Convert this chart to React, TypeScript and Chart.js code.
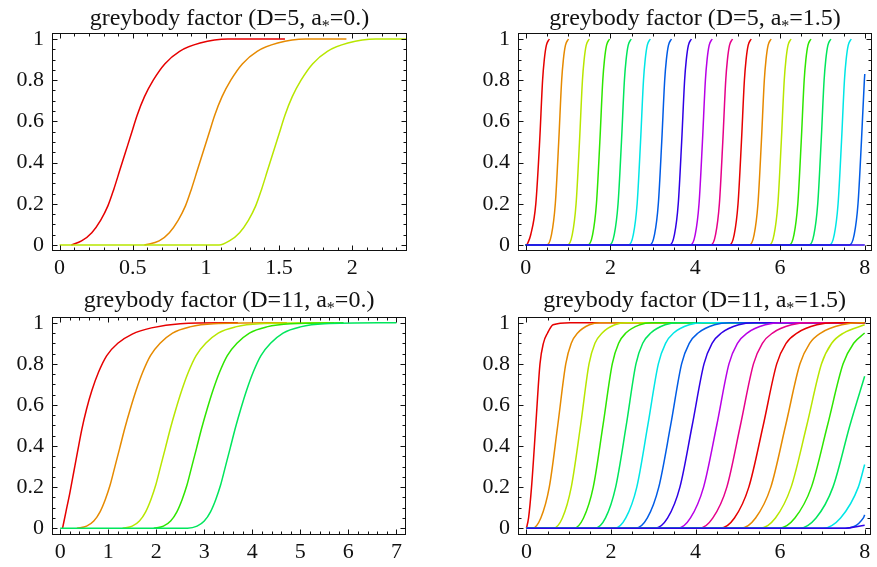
import React, { useEffect, useRef } from 'react';
import { Chart, registerables } from 'chart.js';

Chart.register(...registerables);

const SERIF = '"Liberation Serif", "Times New Roman", Times, serif';

// ---------- shared y axis ----------
const Y_TICKS = [0, 0.2, 0.4, 0.6, 0.8, 1];
const Y_TICK_LABELS = ['0', '0.2', '0.4', '0.6', '0.8', '1'];
const Y_MINOR = [0.05, 0.1, 0.15, 0.25, 0.3, 0.35, 0.45, 0.5, 0.55, 0.65, 0.7, 0.75, 0.85, 0.9, 0.95];

// hue (degrees) of curve i in every panel
const HUES = [0, 36, 72, 108, 144, 180, 216, 252, 288, 324, 0, 36, 72, 108, 144, 180, 216, 252];

// ---------- panel 1 : D=5, a*=0 ----------
const P1_TITLE = ['greybody factor (D=5, a', '*', '=0.)'];
const P1_X_TICKS = [0, 0.5, 1, 1.5, 2];
const P1_X_LABELS = ['0', '0.5', '1', '1.5', '2'];
const P1_X_MINOR = [0.1, 0.2, 0.3, 0.4, 0.6, 0.7, 0.8, 0.9, 1.1, 1.2, 1.3, 1.4, 1.6, 1.7, 1.8, 1.9, 2.1, 2.2, 2.3];
const P1_X = [
  [0.08, 0.15, 0.22, 0.28, 0.33, 0.37, 0.41, 0.45, 0.49, 0.53, 0.58, 0.64, 0.72, 0.82, 0.96, 1.15, 1.54],
  [0.58, 0.68, 0.75, 0.81, 0.86, 0.9, 0.94, 0.98, 1.02, 1.06, 1.11, 1.17, 1.25, 1.35, 1.49, 1.68, 1.96],
  [0, 1.09, 1.16, 1.23, 1.29, 1.34, 1.38, 1.42, 1.46, 1.5, 1.54, 1.59, 1.65, 1.73, 1.83, 1.97, 2.16, 2.37],
];
const P1_Y_LEVELS = [0, 0.02, 0.06, 0.12, 0.19, 0.27, 0.36, 0.45, 0.54, 0.63, 0.72, 0.8, 0.88, 0.94, 0.98, 1, 1];
const P1_Y_LEVELS_TAIL = [0, 0, 0.02, 0.06, 0.12, 0.19, 0.27, 0.36, 0.45, 0.54, 0.63, 0.72, 0.8, 0.88, 0.94, 0.98, 1, 1];
const P1_Y = [P1_Y_LEVELS, P1_Y_LEVELS, P1_Y_LEVELS_TAIL];

// ---------- panel 2 : D=5, a*=1.5 ----------
const P2_TITLE = ['greybody factor (D=5, a', '*', '=1.5)'];
const P2_X_TICKS = [0, 2, 4, 6, 8];
const P2_X_LABELS = ['0', '2', '4', '6', '8'];
const P2_X_MINOR = [0.5, 1, 1.5, 2.5, 3, 3.5, 4.5, 5, 5.5, 6.5, 7, 7.5];
const P2_X = [
  [0.03, 0.12, 0.24, 0.33, 0.4, 0.44, 0.49, 0.56],
  [0, 0.5, 0.61, 0.7, 0.78, 0.85, 0.89, 0.94, 1.01],
  [0, 0.99, 1.1, 1.19, 1.27, 1.34, 1.38, 1.43, 1.5],
  [0, 1.47, 1.58, 1.67, 1.75, 1.82, 1.86, 1.91, 1.98],
  [0, 1.98, 2.09, 2.18, 2.26, 2.33, 2.37, 2.42, 2.49],
  [0, 2.43, 2.54, 2.63, 2.71, 2.78, 2.82, 2.87, 2.94],
  [0, 2.93, 3.04, 3.13, 3.21, 3.28, 3.32, 3.37, 3.44],
  [0, 3.4, 3.51, 3.6, 3.68, 3.75, 3.79, 3.84, 3.91],
  [0, 3.89, 4.0, 4.09, 4.17, 4.24, 4.28, 4.33, 4.4],
  [0, 4.37, 4.48, 4.57, 4.65, 4.72, 4.76, 4.81, 4.88],
  [0, 4.81, 4.92, 5.01, 5.09, 5.16, 5.2, 5.25, 5.32],
  [0, 5.28, 5.39, 5.48, 5.56, 5.63, 5.67, 5.72, 5.79],
  [0, 5.75, 5.86, 5.95, 6.03, 6.1, 6.14, 6.19, 6.26],
  [0, 6.22, 6.33, 6.42, 6.5, 6.57, 6.61, 6.66, 6.73],
  [0, 6.69, 6.8, 6.89, 6.97, 7.04, 7.08, 7.13, 7.2],
  [0, 7.17, 7.28, 7.37, 7.45, 7.52, 7.56, 7.61, 7.68],
  [0, 7.64, 7.75, 7.84, 7.92, 7.99, 8.0],
  [0, 8.0],
];
const P2_Y_FIRST = [0, 0.05, 0.2, 0.5, 0.8, 0.9, 0.97, 1];
const P2_Y_STEP = [0, 0, 0.05, 0.2, 0.5, 0.8, 0.9, 0.97, 1];
const P2_Y_LAST = [0, 0, 0.05, 0.2, 0.5, 0.8, 0.83];
const P2_Y_FLAT = [0, 0];
const P2_Y = [
  P2_Y_FIRST, P2_Y_STEP, P2_Y_STEP, P2_Y_STEP, P2_Y_STEP, P2_Y_STEP, P2_Y_STEP, P2_Y_STEP, P2_Y_STEP,
  P2_Y_STEP, P2_Y_STEP, P2_Y_STEP, P2_Y_STEP, P2_Y_STEP, P2_Y_STEP, P2_Y_STEP, P2_Y_LAST, P2_Y_FLAT,
];

// ---------- panel 3 : D=11, a*=0 ----------
const P3_TITLE = ['greybody factor (D=11, a', '*', '=0.)'];
const P3_X_TICKS = [0, 1, 2, 3, 4, 5, 6, 7];
const P3_X_LABELS = ['0', '1', '2', '3', '4', '5', '6', '7'];
const P3_X_MINOR = [0.2, 0.4, 0.6, 0.8, 1.2, 1.4, 1.6, 1.8, 2.2, 2.4, 2.6, 2.8, 3.2, 3.4, 3.6, 3.8, 4.2, 4.4, 4.6, 4.8, 5.2, 5.4, 5.6, 5.8, 6.2, 6.4, 6.6, 6.8];
const P3_X = [
  [0.05, 0.12, 0.2, 0.28, 0.36, 0.45, 0.55, 0.66, 0.8, 0.97, 1.2, 1.5, 1.9, 2.5, 3.7],
  [0.35, 0.55, 0.7, 0.83, 0.94, 1.04, 1.14, 1.24, 1.35, 1.46, 1.58, 1.72, 1.88, 2.08, 2.34, 2.7, 3.2, 4.72],
  [1.3, 1.5, 1.65, 1.78, 1.89, 1.99, 2.09, 2.19, 2.3, 2.41, 2.53, 2.67, 2.83, 3.03, 3.29, 3.65, 4.15, 5.7],
  [1.95, 2.15, 2.3, 2.43, 2.54, 2.64, 2.74, 2.84, 2.95, 3.06, 3.18, 3.32, 3.48, 3.68, 3.94, 4.3, 4.8, 5.9],
  [0, 2.65, 2.85, 3.0, 3.13, 3.24, 3.34, 3.44, 3.54, 3.65, 3.76, 3.88, 4.02, 4.18, 4.38, 4.64, 5.0, 5.5, 7.0],
];
const P3_Y_RED = [0, 0.08, 0.17, 0.27, 0.37, 0.48, 0.58, 0.67, 0.76, 0.84, 0.9, 0.945, 0.975, 0.995, 1];
const P3_Y_LEVELS = [0, 0.01, 0.035, 0.08, 0.14, 0.21, 0.3, 0.39, 0.49, 0.58, 0.67, 0.76, 0.84, 0.9, 0.95, 0.98, 0.995, 1];
const P3_Y_TAIL = [0, 0, 0.01, 0.035, 0.08, 0.14, 0.21, 0.3, 0.39, 0.49, 0.58, 0.67, 0.76, 0.84, 0.9, 0.95, 0.98, 0.995, 1];
const P3_Y = [P3_Y_RED, P3_Y_LEVELS, P3_Y_LEVELS, P3_Y_LEVELS, P3_Y_TAIL];

// ---------- panel 4 : D=11, a*=1.5 ----------
const P4_TITLE = ['greybody factor (D=11, a', '*', '=1.5)'];
const P4_X_TICKS = [0, 2, 4, 6, 8];
const P4_X_LABELS = ['0', '2', '4', '6', '8'];
const P4_X_MINOR = [0.5, 1, 1.5, 2.5, 3, 3.5, 4.5, 5, 5.5, 6.5, 7, 7.5];
const P4_X = [
  [0, 0.05, 0.12, 0.22, 0.32, 0.4, 0.5, 0.63, 1.03, 8],
  [0, 0.14, 0.34, 0.54, 0.74, 0.93, 1.06, 1.21, 1.49, 1.74, 8],
  [0, 0.63, 0.85, 1.06, 1.28, 1.48, 1.62, 1.79, 2.09, 2.36, 8],
  [0, 1.12, 1.35, 1.58, 1.81, 2.03, 2.18, 2.35, 2.68, 2.96, 8],
  [0, 1.62, 1.87, 2.11, 2.36, 2.59, 2.75, 2.94, 3.28, 3.59, 8],
  [0, 2.09, 2.35, 2.61, 2.87, 3.12, 3.29, 3.48, 3.85, 4.18, 8],
  [0, 2.58, 2.86, 3.13, 3.41, 3.67, 3.85, 4.06, 4.45, 4.8, 8],
  [0, 3.04, 3.34, 3.63, 3.92, 4.2, 4.39, 4.61, 5.02, 5.38, 8],
  [0, 3.58, 3.88, 4.19, 4.5, 4.79, 4.99, 5.22, 5.65, 6.04, 8],
  [0, 4.09, 4.41, 4.74, 5.06, 5.37, 5.58, 5.82, 6.27, 6.68, 8],
  [0, 4.58, 4.92, 5.26, 5.6, 5.92, 6.14, 6.4, 6.87, 7.29, 8],
  [0, 5.07, 5.42, 5.78, 6.13, 6.47, 6.7, 6.96, 7.46, 7.9, 8],
  [0, 5.52, 5.89, 6.26, 6.63, 6.98, 7.22, 7.5, 8],
  [0, 5.97, 6.35, 6.74, 7.12, 7.49, 7.74, 8],
  [0, 6.45, 6.85, 7.25, 7.65, 8],
  [0, 7.01, 7.43, 7.85, 8],
  [0, 7.53, 7.97, 8],
  [0, 7.5, 8],
];
const P4_Y_FIRST = [0, 0.05, 0.2, 0.5, 0.8, 0.9, 0.95, 0.99, 1, 1];
const P4_Y_FULL = [0, 0, 0.05, 0.2, 0.5, 0.8, 0.9, 0.95, 0.99, 1, 1];
const P4_Y = [
  P4_Y_FIRST, P4_Y_FULL, P4_Y_FULL, P4_Y_FULL, P4_Y_FULL, P4_Y_FULL, P4_Y_FULL, P4_Y_FULL, P4_Y_FULL,
  P4_Y_FULL, P4_Y_FULL, P4_Y_FULL,
  [0, 0, 0.05, 0.2, 0.5, 0.8, 0.9, 0.95, 0.99],
  [0, 0, 0.05, 0.2, 0.5, 0.8, 0.9, 0.95],
  [0, 0, 0.05, 0.2, 0.5, 0.74],
  [0, 0, 0.05, 0.2, 0.31],
  [0, 0, 0.05, 0.065],
  [0, 0, 0.015],
];

type Panel = {
  left: number; top: number; w: number; h: number;
  area: { l: number; t: number; r: number; b: number };
  xMin: number; xMax: number; yMin: number; yMax: number;
  xTicks: number[]; xLabels: string[]; xMinor: number[];
  title: string[]; titleBase: number;
  xs: number[][]; ys: number[][];
};

const PANELS: Panel[] = [
  {
    left: 0, top: 0, w: 438, h: 283, area: { l: 52, t: 33, r: 407, b: 251 },
    xMin: -0.052, xMax: 2.374, yMin: -0.029, yMax: 1.029,
    xTicks: P1_X_TICKS, xLabels: P1_X_LABELS, xMinor: P1_X_MINOR,
    title: P1_TITLE, titleBase: 25, xs: P1_X, ys: P1_Y,
  },
  {
    left: 438, top: 0, w: 439, h: 283, area: { l: 80, t: 33, r: 434, b: 251 },
    xMin: -0.18, xMax: 8.17, yMin: -0.029, yMax: 1.029,
    xTicks: P2_X_TICKS, xLabels: P2_X_LABELS, xMinor: P2_X_MINOR,
    title: P2_TITLE, titleBase: 25, xs: P2_X, ys: P2_Y,
  },
  {
    left: 0, top: 283, w: 438, h: 284, area: { l: 52, t: 34, r: 406, b: 252 },
    xMin: -0.17, xMax: 7.2, yMin: -0.033, yMax: 1.028,
    xTicks: P3_X_TICKS, xLabels: P3_X_LABELS, xMinor: P3_X_MINOR,
    title: P3_TITLE, titleBase: 24, xs: P3_X, ys: P3_Y,
  },
  {
    left: 438, top: 283, w: 439, h: 284, area: { l: 80, t: 34, r: 433, b: 252 },
    xMin: -0.2, xMax: 8.15, yMin: -0.033, yMax: 1.028,
    xTicks: P4_X_TICKS, xLabels: P4_X_LABELS, xMinor: P4_X_MINOR,
    title: P4_TITLE, titleBase: 24, xs: P4_X, ys: P4_Y,
  },
];

function framePlugin(p: Panel) {
  return {
    id: 'mmaFrame',
    afterDatasetsDraw(chart: any) {
      const { ctx, chartArea: a, scales } = chart;
      const sx = scales.x;
      const sy = scales.y;
      ctx.save();
      ctx.strokeStyle = '#111';
      ctx.lineWidth = 1;
      const L = Math.round(a.left) + 0.5;
      const R = Math.round(a.right) - 0.5;
      const T = Math.round(a.top) + 0.5;
      const B = Math.round(a.bottom) - 0.5;
      ctx.strokeRect(L, T, R - L, B - T);
      ctx.beginPath();
      const xt = (v: number, len: number) => {
        const px = Math.round(sx.getPixelForValue(v)) + 0.5;
        ctx.moveTo(px, B); ctx.lineTo(px, B - len);
        ctx.moveTo(px, T); ctx.lineTo(px, T + len);
      };
      const yt = (v: number, len: number) => {
        const py = Math.round(sy.getPixelForValue(v)) + 0.5;
        ctx.moveTo(L, py); ctx.lineTo(L + len, py);
        ctx.moveTo(R, py); ctx.lineTo(R - len, py);
      };
      p.xTicks.forEach((v) => xt(v, 5));
      p.xMinor.forEach((v) => xt(v, 3));
      Y_TICKS.forEach((v) => yt(v, 5));
      Y_MINOR.forEach((v) => yt(v, 3));
      ctx.stroke();
      ctx.restore();
    },
    afterDraw(chart: any) {
      const { ctx, chartArea: a } = chart;
      ctx.save();
      ctx.fillStyle = '#111';
      ctx.textBaseline = 'alphabetic';
      ctx.textAlign = 'left';
      const big = `24px ${SERIF}`;
      const small = `16px ${SERIF}`;
      ctx.font = big;
      const w0 = ctx.measureText(p.title[0]).width;
      const w2 = ctx.measureText(p.title[2]).width;
      ctx.font = small;
      const w1 = ctx.measureText(p.title[1]).width;
      let x = (a.left + a.right) / 2 - (w0 + w1 + w2) / 2;
      ctx.font = big;
      ctx.fillText(p.title[0], x, p.titleBase);
      x += w0;
      ctx.font = small;
      ctx.fillText(p.title[1], x, p.titleBase + 6);
      x += w1;
      ctx.font = big;
      ctx.fillText(p.title[2], x, p.titleBase);
      ctx.restore();
    },
  };
}

function makeConfig(p: Panel): any {
  const datasets = p.xs.map((xs, i) => ({
    data: xs.map((x, j) => ({ x, y: p.ys[i][j] })),
    borderColor: `hsl(${HUES[i]}, 100%, 45%)`,
    borderWidth: 1.5,
    pointRadius: 0,
    pointHoverRadius: 0,
    fill: false,
    cubicInterpolationMode: 'monotone',
    order: -i,
  }));
  const tickFont = { family: SERIF, size: 22 };
  return {
    type: 'line',
    data: { datasets },
    plugins: [framePlugin(p)],
    options: {
      animation: false,
      responsive: false,
      maintainAspectRatio: false,
      events: [],
      layout: {
        autoPadding: false,
        padding: { top: p.area.t, right: p.w - p.area.r, left: 0, bottom: 0 },
      },
      plugins: {
        legend: { display: false },
        tooltip: { enabled: false },
        title: { display: false },
      },
      scales: {
        x: {
          type: 'linear',
          min: p.xMin,
          max: p.xMax,
          afterFit: (s: any) => { s.height = p.h - p.area.b; },
          afterBuildTicks: (s: any) => { s.ticks = p.xTicks.map((v) => ({ value: v })); },
          ticks: {
            autoSkip: false,
            maxRotation: 0,
            padding: 4,
            color: '#111',
            font: tickFont,
            callback: (v: number) => p.xLabels[p.xTicks.indexOf(v)],
          },
          grid: { display: false, drawTicks: false },
          border: { display: false },
        },
        y: {
          type: 'linear',
          min: p.yMin,
          max: p.yMax,
          afterFit: (s: any) => { s.width = p.area.l; },
          afterBuildTicks: (s: any) => { s.ticks = Y_TICKS.map((v) => ({ value: v })); },
          ticks: {
            autoSkip: false,
            padding: 8,
            color: '#111',
            font: tickFont,
            callback: (v: number) => Y_TICK_LABELS[Y_TICKS.indexOf(v)],
          },
          grid: { display: false, drawTicks: false },
          border: { display: false },
        },
      },
    },
  };
}

function PanelChart({ p }: { p: Panel }) {
  const ref = useRef<HTMLCanvasElement | null>(null);
  useEffect(() => {
    if (!ref.current) return;
    const chart = new Chart(ref.current, makeConfig(p));
    return () => chart.destroy();
  }, [p]);
  return (
    <canvas
      ref={ref}
      width={p.w}
      height={p.h}
      style={{ position: 'absolute', left: p.left, top: p.top, width: p.w, height: p.h }}
    />
  );
}

export default function App() {
  return (
    <div style={{ position: 'absolute', left: 0, top: 0, width: 877, height: 567, background: '#fff' }}>
      {PANELS.map((p, i) => (
        <PanelChart key={i} p={p} />
      ))}
    </div>
  );
}
